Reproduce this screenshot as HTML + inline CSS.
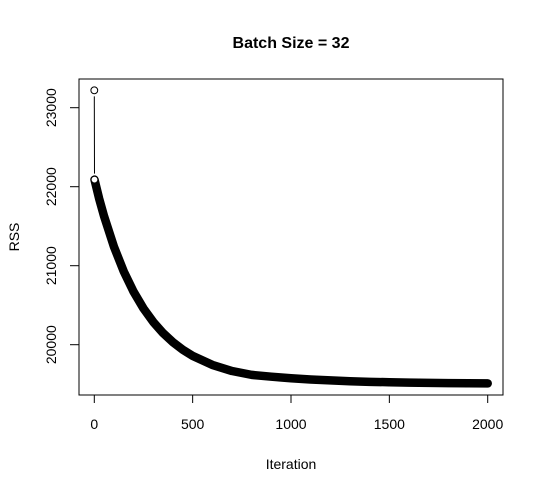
<!DOCTYPE html>
<html><head><meta charset="utf-8"><style>
body{margin:0;background:#fff}
svg{display:block;font-family:"Liberation Sans",Arial,sans-serif}
</style></head><body>
<svg id="chart" width="544" height="493" viewBox="0 0 544 493" xmlns="http://www.w3.org/2000/svg">
<rect width="544" height="493" fill="#fff"/>
<text x="291" y="48" text-anchor="middle" font-size="16" font-weight="bold">Batch Size = 32</text>
<rect x="79" y="79" width="424" height="316" fill="none" stroke="#000" stroke-width="1"/>
<text x="291" y="469" text-anchor="middle" font-size="14">Iteration</text>
<text transform="translate(19,237) rotate(-90)" text-anchor="middle" font-size="14">RSS</text>
<g id="xaxis"></g>
<g id="yaxis"></g>
<g id="series"></g>
</svg>
<script>
const iterations=[1,25,50,100,150,200,250,300,350,400,450,500,600,700,800,900,1000,1100,1200,1300,1400,1500,1600,1700,1800,1900,2000];
const rssValues=[22090,21845,21623,21239,20926,20669,20459,20287,20146,20031,19936,19859,19744,19667,19618,19595,19575,19560,19548,19538,19530,19525,19520,19517,19514,19512,19510];
const firstIteration=0;
const firstRss=23220;
const xTicks=[0,500,1000,1500,2000];
const yTicks=[20000,21000,22000,23000];
const NS="http://www.w3.org/2000/svg";
function sx(v){return 94.3+(v-0)*(487.7-94.3)/2000;}
function sy(v){return 186.7-(v-22000)*79/1000;}
function mk(tag,attrs,parent){const e=document.createElementNS(NS,tag);for(const k in attrs)e.setAttribute(k,attrs[k]);parent.appendChild(e);return e;}
const xa=document.getElementById('xaxis'),ya=document.getElementById('yaxis'),se=document.getElementById('series');
mk('line',{x1:sx(xTicks[0]),x2:sx(xTicks[xTicks.length-1]),y1:395,y2:395,stroke:'#000'},xa);
xTicks.forEach(t=>{
 const l=mk('line',{x1:sx(t),x2:sx(t),y1:395,y2:403,stroke:'#000'},xa);
 
 
 const tx=mk('text',{x:sx(t),y:429,'text-anchor':'middle','font-size':14},xa);tx.textContent=t;
 
 
});
mk('line',{x1:79,x2:79,y1:sy(yTicks[0]),y2:sy(yTicks[yTicks.length-1]),stroke:'#000'},ya);
yTicks.forEach(t=>{
 const l=mk('line',{x1:70,x2:79,y1:sy(t),y2:sy(t),stroke:'#000'},ya);
 
 
 const tx=mk('text',{transform:`translate(56,${sy(t)}) rotate(-90)`,'text-anchor':'middle','font-size':14},ya);tx.textContent=t;
 
 
});
// connector between first two points
const x0=sx(firstIteration),y0=sy(firstRss),x1=sx(iterations[0]),y1=sy(rssValues[0]);
const conn=mk('line',{x1:x0,x2:x1,y1:y0+6,y2:y1-6,stroke:'#000','stroke-width':1},se);


let d='';
iterations.forEach((it,i)=>{d+=(i?'L':'M')+sx(it).toFixed(2)+','+sy(rssValues[i]).toFixed(2);});
const band=mk('path',{d:d,fill:'none',stroke:'#000','stroke-width':8.5,'stroke-linecap':'round','stroke-linejoin':'round'},se);


const c0=mk('circle',{cx:x0,cy:y0,r:3.4,fill:'#fff',stroke:'#000','stroke-width':1},se);


const c1=mk('circle',{cx:x1,cy:y1,r:3.4,fill:'#fff',stroke:'#000','stroke-width':1},se);


</script>
</body></html>
